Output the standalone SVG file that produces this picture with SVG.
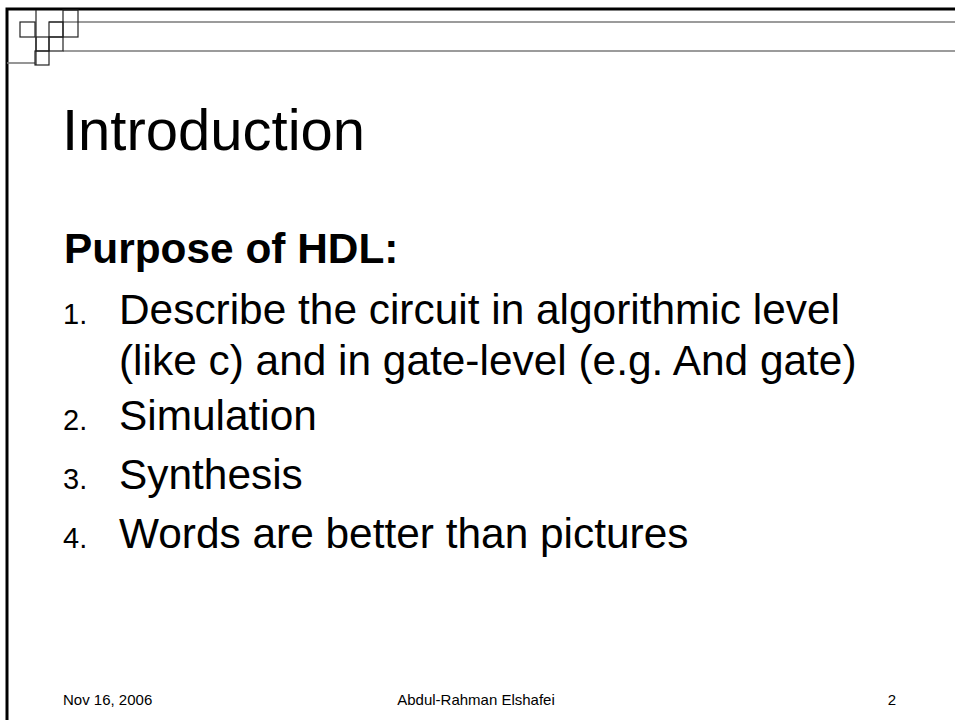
<svg xmlns="http://www.w3.org/2000/svg" width="955" height="720" viewBox="0 0 955 720">
  <style>
    .txt { font-family: "Liberation Sans", Arial, sans-serif; fill: #000; }
    .title { font-size: 58px; }
    .head { font-size: 42.4px; font-weight: bold; }
    .body { font-size: 42.4px; }
    .num { font-size: 29px; }
    .foot { font-size: 15px; }
    .pix { fill: none; stroke: #222; stroke-width: 1.2; }
    .rule { fill: none; stroke: #7a7a7a; stroke-width: 1.6; }
    .frame { fill: none; stroke: #000; stroke-width: 3; }
  </style>
  <rect width="955" height="720" fill="#fff"/>

  <!-- slide frame: thick top and left edges -->
  <g id="frame">
    <path class="frame" d="M7 720 V9 H955"/>
    <line class="rule" x1="49" y1="22" x2="955" y2="22"/>
    <line class="rule" x1="63" y1="51" x2="955" y2="51"/>
    <line class="rule" x1="7" y1="63" x2="35" y2="63"/>
  </g>

  <!-- corner pixel ornament -->
  <g id="ornament">
    <line class="pix" x1="36" y1="10" x2="36" y2="65"/>
    <rect class="pix" x="20" y="22" width="15" height="15"/>
    <rect class="pix" x="49" y="22" width="14" height="15"/>
    <rect class="pix" x="63" y="10" width="15" height="27"/>
    <rect class="pix" x="36" y="37" width="13" height="14"/>
    <rect class="pix" x="49" y="37" width="14" height="14"/>
    <rect class="pix" x="35" y="51" width="14" height="14"/>
  </g>

  <g id="title">
    <text class="txt title" x="62" y="150">Introduction</text>
  </g>

  <g id="content">
    <text class="txt head" x="64" y="263">Purpose of HDL:</text>

    <text class="txt num" x="63" y="324">1.</text>
    <text class="txt body" x="119" y="324">Describe the circuit in algorithmic level</text>
    <text class="txt body" x="119" y="375">(like c) and in gate-level (e.g. And gate)</text>

    <text class="txt num" x="63" y="430">2.</text>
    <text class="txt body" x="119" y="430">Simulation</text>

    <text class="txt num" x="63" y="489">3.</text>
    <text class="txt body" x="119" y="489">Synthesis</text>

    <text class="txt num" x="63" y="548">4.</text>
    <text class="txt body" x="119" y="548">Words are better than pictures</text>
  </g>

  <g id="footer">
    <text class="txt foot" x="63" y="705">Nov 16, 2006</text>
    <text class="txt foot" x="476" y="705" text-anchor="middle">Abdul-Rahman Elshafei</text>
    <text class="txt foot" x="896" y="705" text-anchor="end">2</text>
  </g>
</svg>
